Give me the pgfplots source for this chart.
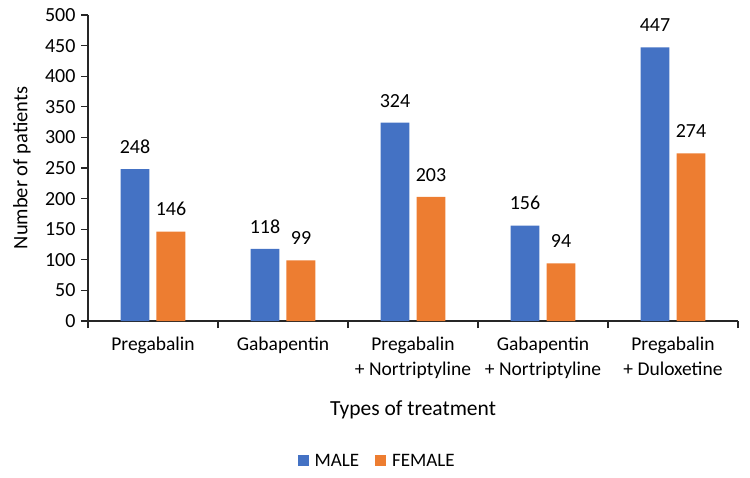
\documentclass[border=0pt]{standalone}
\usepackage{pgfplots}
\pgfplotsset{compat=1.18}
\usepackage{fontspec}
\setmainfont{Carlito}
\definecolor{mblue}{HTML}{4472C4}
\definecolor{forange}{HTML}{ED7D31}
\begin{document}
\begin{tikzpicture}
\path (0pt,0pt) rectangle (750pt,477pt);
\begin{axis}[
  at={(88pt,156pt)}, anchor=south west,
  scale only axis, width=650pt, height=306pt,
  ymin=0, ymax=500, ytick={0,50,...,500},
  xmin=-0.5, xmax=4.5,
  xtick={0,...,4},
  xticklabels={Pregabalin, Gabapentin, Pregabalin\\+ Nortriptyline, Gabapentin\\+ Nortriptyline, Pregabalin\\+ Duloxetine},
  xticklabel style={align=center, font=\fontsize{19.5}{25.5}\selectfont, yshift=-5pt},
  yticklabel style={font=\fontsize{20}{24}\selectfont, xshift=-2pt},
  major x tick style={draw=none},
  minor xtick={-0.5,0.5,...,4.5},
  tick align=outside,
  major tick length=7pt, minor tick length=7pt,
  axis x line*=bottom, axis y line*=left,
  axis line style={line width=1.3pt, color=black!85},
  every tick/.style={line width=1.3pt, color=black!85},
  /pgf/number format/assume math mode=true,
  ybar, bar width=29/130,
  xlabel={Types of treatment},
  ylabel={Number of patients},
  xlabel style={font=\fontsize{21.5}{26}\selectfont, at={(axis description cs:0.5,-0.29)}, anchor=center},
  ylabel style={font=\fontsize{20.5}{24}\selectfont, at={(axis description cs:-0.1015,0.5)}, anchor=center},
  nodes near coords,
  nodes near coords style={font=\fontsize{20}{24}\selectfont, anchor=south, yshift=12pt},
  every node near coord/.append style={/pgf/number format/assume math mode=true},
  legend style={at={(0.445,-0.4575)}, anchor=center, draw=none, legend columns=2,
    font=\fontsize{19}{23}\selectfont,
    /tikz/every odd column/.append style={column sep=4pt},
    /tikz/every even column/.append style={column sep=14pt}},
  legend image code/.code={\fill[#1] (0pt,-5.5pt) rectangle (11pt,5.5pt);},
]
\addplot[fill=mblue, draw=none, bar shift=-18/130] coordinates {(0,248) (1,118) (2,324) (3,156) (4,447)};
\addplot[fill=forange, draw=none, bar shift=18/130] coordinates {(0,146) (1,99) (2,203) (3,94) (4,274)};
\legend{MALE, FEMALE}
\end{axis}
\end{tikzpicture}
\end{document}
